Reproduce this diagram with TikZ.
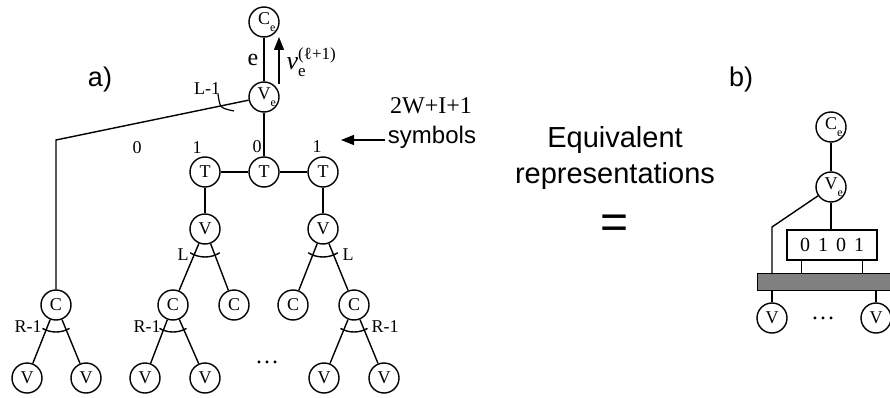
\RequirePackage{fix-cm}
\documentclass[tikz,border=0pt]{standalone}
\usepackage{fontspec}
\setmainfont{Liberation Serif}
\newfontfamily\arial{Liberation Sans}
\usetikzlibrary{arrows.meta}
\newcommand\withe[1]{#1\rlap{\raisebox{-7pt}{\fontsize{12}{12}\selectfont e}}}
\newcommand\fan[3]{\draw ([shift={(#2:#3)}]#1.center) arc[start angle=#2,end angle={180-#2},radius=#3];}
\begin{document}
\begin{tikzpicture}[x=1pt,y=-1pt,line width=1.4pt,
  nd/.style={circle,draw,line width=1.4pt,minimum size=30pt,inner sep=0pt,font=\fontsize{18}{18}\selectfont},
  lab/.style={inner sep=0pt,font=\fontsize{18}{18}\selectfont},
  big/.style={inner sep=0pt,font=\fontsize{24}{24}\selectfont},
  sans/.style={inner sep=0pt,font=\arial\fontsize{24}{24}\selectfont},
  tip/.style={-{Triangle[length=13pt,width=10pt]}}]
\useasboundingbox (0,0) rectangle (890,398);
% ---------- a) ----------
\node[nd] (Cet) at (264,22) {\withe{C}};
\node[nd] (Vet) at (264,97) {\withe{V}};
\node[nd] (Tl) at (205,172) {T};
\node[nd] (Tm) at (264,172) {T};
\node[nd] (Tr) at (323,172) {T};
\node[nd] (Vl) at (205,229) {V};
\node[nd] (Vr) at (323,229) {V};
\node[nd] (C1) at (56,305) {C};
\node[nd] (C2) at (173,305) {C};
\node[nd] (C3) at (234,305) {C};
\node[nd] (C4) at (293,305) {C};
\node[nd] (C5) at (354,305) {C};
\node[nd] (V1) at (27,378) {V};
\node[nd] (V2) at (86,378) {V};
\node[nd] (V3) at (145,378) {V};
\node[nd] (V4) at (205,378) {V};
\node[nd] (V5) at (324,378) {V};
\node[nd] (V6) at (384,378) {V};
\coordinate (k1) at (56,140);
\draw (Cet) -- (Vet);
\draw (Vet) -- (k1) -- (C1);
\draw (Vet) -- (Tm);
\draw (Tl) -- (Tm) -- (Tr);
\draw (Tl) -- (Vl);
\draw (Tr) -- (Vr);
\draw (Vl) -- (C2); \draw (Vl) -- (C3);
\draw (Vr) -- (C4); \draw (Vr) -- (C5);
\draw (C1) -- (V1); \draw (C1) -- (V2);
\draw (C2) -- (V3); \draw (C2) -- (V4);
\draw (C5) -- (V5); \draw (C5) -- (V6);
\fan{Vl}{58}{28}
\fan{Vr}{58}{28}
\fan{C1}{60}{27}
\fan{C2}{60}{27}
\fan{C5}{60}{27}
\draw[line width=1.2pt] (218,94) .. controls (220,108) .. (234,111);
\coordinate (a0) at (279,84);
\coordinate (a1) at (279,37);
\draw[tip] (a0) -- (a1);
\node[big] at (253,60) {e};
\node[anchor=base west,inner sep=0pt,font=\fontsize{26}{26}\selectfont] at (286,70)
  {\textit{v}\rlap{\raisebox{-7pt}{\fontsize{17}{17}\selectfont e}}\raisebox{10pt}{\fontsize{17}{17}\selectfont (ℓ+1)}};
\node[lab] at (207,89) {L-1};
\node[lab] at (137,148) {0};
\node[lab] at (197,148) {1};
\node[lab] at (257,147) {0};
\node[lab] at (317,147) {1};
\node[lab] at (183,255) {L};
\node[lab] at (348,255) {L};
\node[lab] at (28,327) {R-1};
\node[lab] at (147,327) {R-1};
\node[lab] at (385,327) {R-1};
\node[inner sep=0pt,font=\fontsize{24}{24}\selectfont] at (267,362) {\dots};
\node[big,anchor=base] at (431,114) {2W+I+1};
\node[sans,anchor=base] (sym) at (432,143) {symbols};
\coordinate (s0) at (385,140);
\coordinate (s1) at (341,140);
\draw[tip] (s0) -- (s1);
\node[inner sep=0pt,anchor=base,font=\arial\fontsize{27}{27}\selectfont] at (100,87) {a)};
% ---------- middle ----------
\node[inner sep=0pt,anchor=base,font=\arial\fontsize{29}{29}\selectfont] at (615,148) {Equivalent};
\node[inner sep=0pt,anchor=base,font=\arial\fontsize{29}{29}\selectfont] at (615,183) {representations};
\node[inner sep=0pt,font=\arial\fontsize{48}{48}\selectfont] at (615,227) {=};
% ---------- b) ----------
\node[inner sep=0pt,anchor=base,font=\arial\fontsize{27}{27}\selectfont] at (741,87) {b)};
\node[nd] (Ceb) at (831,127) {\withe{C}};
\node[nd] (Veb) at (831,187) {\withe{V}};
\node[draw,line width=1.4pt,minimum width=90pt,minimum height=30pt,inner sep=0pt,font=\fontsize{20}{20}\selectfont] (box) at (832,245) {0\hspace{8pt}1\hspace{8pt}0\hspace{8pt}1};
\node[draw,line width=1.4pt,fill=black!50,minimum width=150pt,minimum height=17pt,inner sep=0pt,anchor=north west] (bar) at (757,273) {};
\node[nd] (Vb1) at (772,318) {V};
\node[nd] (Vb2) at (876,318) {V};
\coordinate (k2) at (772,227);
\draw (Ceb) -- (Veb);
\draw (Veb) -- (Veb |- box.north);
\draw (Veb) -- (k2) -- (k2 |- bar.north);
\draw ([xshift=15pt]box.south west) -- ([xshift=15pt]box.south west |- bar.north);
\draw ([xshift=-15pt]box.south east) -- ([xshift=-15pt]box.south east |- bar.north);
\draw (Vb1) -- (Vb1 |- bar.south);
\draw (Vb2) -- (Vb2 |- bar.south);
\node[inner sep=0pt,font=\fontsize{24}{24}\selectfont] at (823,318) {\dots};
\end{tikzpicture}
\end{document}
